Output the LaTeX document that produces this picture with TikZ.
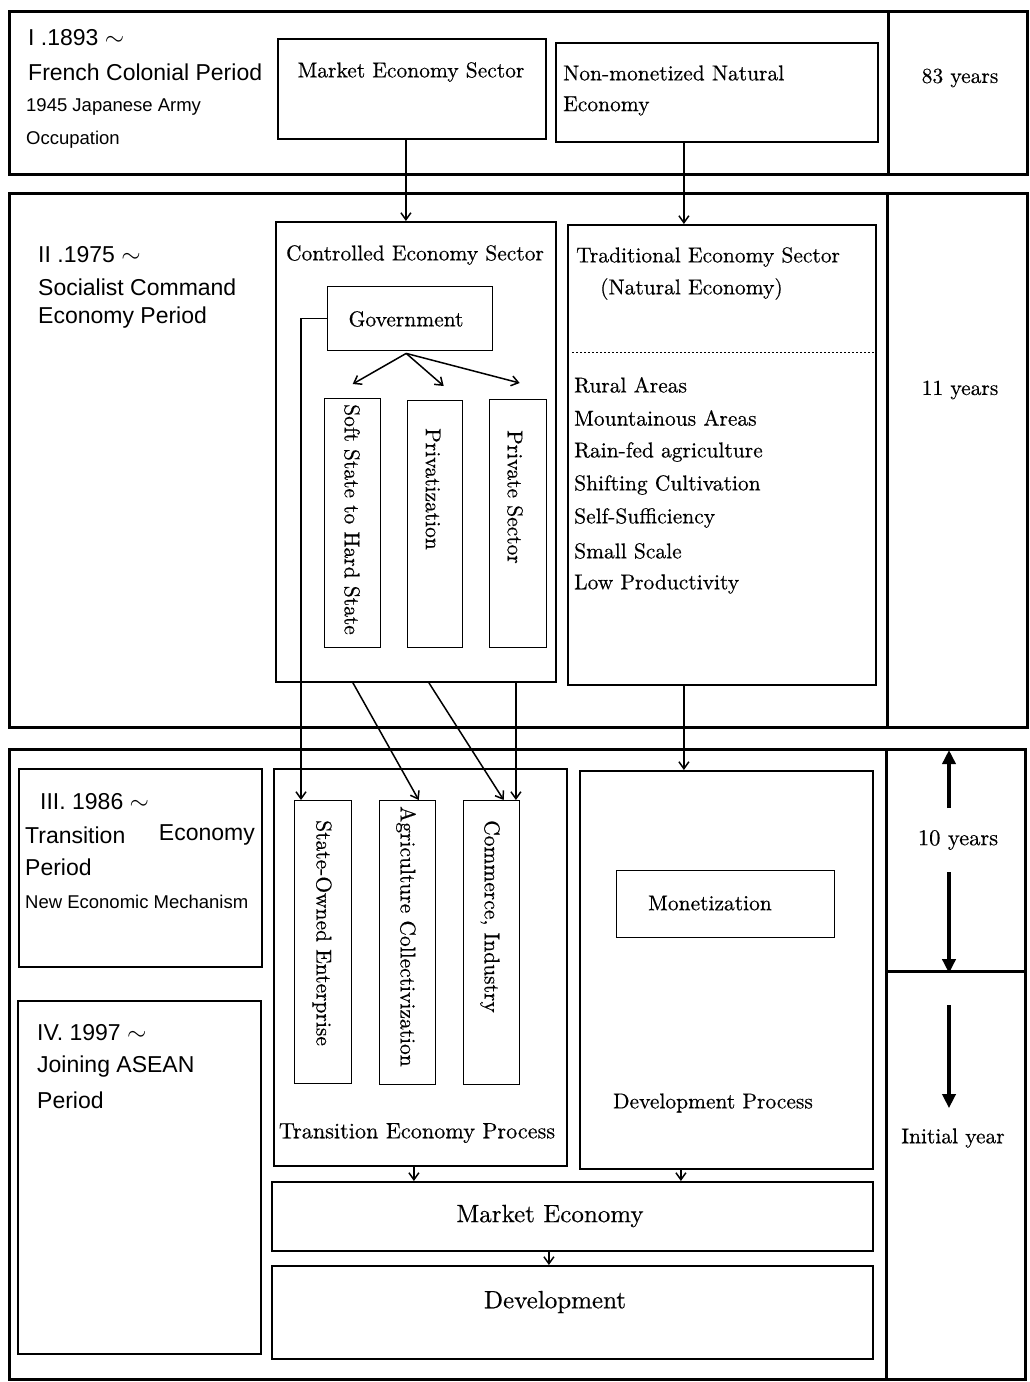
\documentclass[tikz,border=0pt]{standalone}
\usepackage{fontspec}
\newfontfamily\hsans{Liberation Sans}
\newfontfamily\rmten{lmroman10-regular.otf}[FakeBold=0.4]
\usetikzlibrary{arrows.meta,calc}

\begin{document}
\begin{tikzpicture}[x=1pt,y=-1pt,
  band/.style={draw, line width=3.2pt, inner sep=0pt, anchor=north west},
  box/.style={draw, line width=1.8pt, inner sep=0pt, anchor=north west},
  slim/.style={draw, line width=1.4pt, inner sep=0pt, anchor=north west},
  serif/.style={font=\rmten\fontsize{21.5}{26}\selectfont, inner sep=0pt},
  bigserif/.style={font=\rmten\fontsize{25}{30}\selectfont, inner sep=0pt},
  sans/.style={font=\hsans\fontsize{23}{28}\selectfont, inner sep=0pt, anchor=west},
  smallsans/.style={font=\hsans\fontsize{18.5}{22}\selectfont, inner sep=0pt, anchor=west},
  vtext/.style={serif, rotate=-90, anchor=west},
  arr/.style={line width=1.5pt, -{Straight Barb[length=7pt,width=10pt,line width=1.5pt]}},
  tarr/.style={line width=4pt, -{Triangle[length=14pt,width=13pt]}},
  dots/.style={line width=1pt, dash pattern=on 2pt off 2pt},
]
\fill[white] (0,0) rectangle (1030,1382);
\useasboundingbox (0,0) rectangle (1030,1382);

% ---------- Period I ----------
\node[band, minimum width=879pt, minimum height=163pt] (b1L) at (8,10) {};
\node[band, minimum width=139pt, minimum height=163pt] (b1R) at (887,10) {};
\node[box, minimum width=268pt, minimum height=100pt] (mes) at (277,38) {};
\node[box, minimum width=322pt, minimum height=99pt] (nme) at (555,42) {};

\node[sans] (p1a) at (28,38) {I .1893 $\sim$};
\node[sans] (p1b) at (28,72) {French Colonial Period};
\node[smallsans] (p1c) at (26,107) {1945 Japanese Army};
\node[smallsans] (p1d) at (26,140) {Occupation};
\node[serif] (mest) at (411,72) {Market Economy Sector};
\node[serif, anchor=west] (nmea) at (563,73) {Non-monetized Natural};
\node[serif, anchor=west] (nmeb) at (563,106) {Economy};
\node[serif] (y83) at (960,78) {83 years};

% ---------- Period II ----------
\node[band, minimum width=878pt, minimum height=534pt] (b2L) at (8,192) {};
\node[band, minimum width=140pt, minimum height=534pt] (b2R) at (886,192) {};
\node[box, minimum width=280pt, minimum height=460pt] (ces) at (275,221) {};
\node[slim, minimum width=165pt, minimum height=64pt] (gov) at (327,286) {};
\node[slim, minimum width=56pt, minimum height=249pt] (v1) at (324,398) {};
\node[slim, minimum width=55pt, minimum height=247pt] (v2) at (407,400) {};
\node[slim, minimum width=57pt, minimum height=248pt] (v3) at (489,399) {};
\node[box, minimum width=308pt, minimum height=460pt] (tes) at (567,224) {};

\node[sans] (p2a) at (38,255) {II .1975 $\sim$};
\node[sans] (p2b) at (38,287) {Socialist Command};
\node[sans] (p2c) at (38,318) {Economy Period};
\node[serif] (cest) at (415,255) {Controlled\ Economy\ Sector};
\node[serif] (govt) at (406,319) {Government};
\node[vtext] (v1t) at (352,404) {Soft State to Hard State};
\node[vtext] (v2t) at (433,428) {Privatization};
\node[vtext] (v3t) at (515,430) {Private Sector};
\node[serif, anchor=west] (tesa) at (576,257) {Traditional Economy Sector};
\node[serif, anchor=west] (tesb) at (600,289) {(Natural Economy)};
\draw[dots] ($(tes.north west)+(5,128)$) -- ($(tes.north east)+(-2,128)$);
\node[serif, anchor=west] (r1) at (574,385) {Rural Areas};
\node[serif, anchor=west] (r2) at (574,418) {Mountainous Areas};
\node[serif, anchor=west] (r3) at (574,452) {Rain-fed agriculture};
\node[serif, anchor=west] (r4) at (574,485) {Shifting Cultivation};
\node[serif, anchor=west] (r5) at (574,518) {Self-Sufficiency};
\node[serif, anchor=west] (r6) at (574,551) {Small Scale};
\node[serif, anchor=west] (r7) at (574,584) {Low Productivity};
\node[serif] (y11) at (960,390) {11 years};

% ---------- Periods III and IV ----------
\node[band, minimum width=877pt, minimum height=630pt] (b3L) at (8,748) {};
\node[band, minimum width=139pt, minimum height=222pt] (b3Ra) at (885,748) {};
\node[band, minimum width=139pt, minimum height=408pt] (b3Rb) at (885,970) {};
\node[box, minimum width=243pt, minimum height=198pt] (p3) at (18,768) {};
\node[box, minimum width=243pt, minimum height=353pt] (p4) at (17,1000) {};
\node[box, minimum width=293pt, minimum height=397pt] (tep) at (273,768) {};
\node[slim, minimum width=57pt, minimum height=283pt] (w1) at (294,800) {};
\node[slim, minimum width=56pt, minimum height=284pt] (w2) at (379,800) {};
\node[slim, minimum width=56pt, minimum height=284pt] (w3) at (463,800) {};
\node[box, minimum width=293pt, minimum height=398pt] (dev) at (579,770) {};
\node[slim, minimum width=218pt, minimum height=67pt] (mon) at (616,870) {};
\node[box, minimum width=601pt, minimum height=69pt] (mkt) at (271,1181) {};
\node[box, minimum width=601pt, minimum height=93pt] (dvl) at (271,1265) {};

\node[sans] (p3a) at (40,802) {III. 1986 $\sim$};
\node[sans] (p3b) at (25,835) {Transition};
\node[sans, anchor=east] (p3c) at (255,835) {Economy};
\node[sans] (p3d) at (25,867) {Period};
\node[smallsans] (p3e) at (25,902) {New Economic Mechanism};
\node[sans] (p4a) at (37,1033) {IV. 1997 $\sim$};
\node[sans] (p4b) at (37,1067) {Joining ASEAN};
\node[sans] (p4c) at (37,1100) {Period};

\node[vtext] (w1t) at (322,820) {State-Owned Enterprise};
\node[vtext] (w2t) at (406,806) {Agriculture Collectivization};
\node[vtext] (w3t) at (490,820) {Commerce, Industry};
\node[serif, font=\rmten\fontsize{22.2}{27}\selectfont] (tept) at (417,1133) {Transition Economy Process};
\node[serif] (mont) at (710,903) {Monetization};
\node[serif] (devt) at (713,1103) {Development Process};
\node[bigserif] (mktt) at (550,1216) {Market Economy};
\node[bigserif] (dvlt) at (555,1302) {Development};

\node[serif, font=\rmten\fontsize{22.5}{27}\selectfont] (ten) at (958,840) {10 years};
\node[serif] (ini) at (953,1138) {Initial year};

% ---------- connectors ----------
\draw[arr] ($(mes.south)+(-6,0)$) -- ($(mes.south |- ces.north)+(-6,0)$);
\draw[arr] ($(nme.south)+(-33,0)$) -- ($(nme.south |- tes.north)+(-33,0)$);

\draw[arr] ($(gov.south)+(-4,2)$) -- ($(v1.north)+(0,-14)$);
\draw[arr] ($(gov.south)+(-4,2)$) -- ($(v2.north)+(8.5,-14)$);
\draw[arr] ($(gov.south)+(-4,2)$) -- ($(v3.north)+(1.5,-16)$);
\draw[arr] (gov.west) -- ++(-26,0) coordinate (gk) -- (gk |- w1.north);

\draw[arr] ($(ces.south)+(-63,0)$) -- ($(w2.north)+(11,0)$);
\draw[arr] ($(ces.south)+(13,0)$) -- ($(w3.north)+(12,0)$);
\draw[arr] ($(ces.south)+(100,0)$) -- ($(ces.south |- w3.north)+(100,0)$);
\draw[arr] ($(tes.south)+(-38,0)$) -- ($(tes.south |- dev.north)+(-38,0)$);

\draw[arr] ($(tep.south)+(-6.5,0)$) -- ($(tep.south |- mkt.north)+(-6.5,0)$);
\draw[arr] ($(dev.south)+(-45.5,0)$) -- ($(dev.south |- mkt.north)+(-45.5,0)$);
\draw[arr] ($(mkt.south)+(-23.5,0)$) -- ($(mkt.south |- dvl.north)+(-23.5,0)$);

% time spans
\draw[tarr] ($(ten.north)+(-9,-22)$) -- ($(ten.north |- b3Ra.north)+(-9,2)$);
\draw[tarr] ($(ten.south)+(-9,22)$) -- ($(ten.south |- b3Ra.south)+(-9,0)$);
\draw[tarr] ($(ini.north |- b3Rb.north)+(-4,35)$) -- ($(ini.north)+(-4,-20)$);
\end{tikzpicture}
\end{document}
